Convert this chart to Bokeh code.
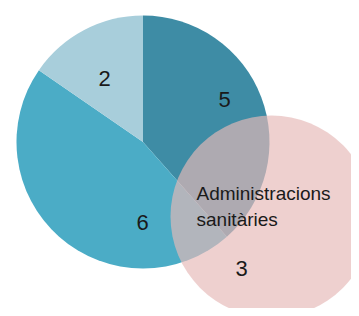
from bokeh.plotting import figure
from bokeh.models import Range1d, ColumnDataSource
from bokeh.core.properties import value
from bokeh.embed import file_html
from bokeh.resources import INLINE
import math

# --- data ---
pie_values = [5, 6, 2]
pie_colors = ["#3E8CA5", "#4BACC6", "#A8CEDB"]
circle_label = "Administracions sanitàries"
circle_value = 3

# --- layout (image-pixel based coordinates, y measured upward) ---
W, H = 351, 308
p = figure(width=W, height=H, output_backend="svg", toolbar_location=None,
           x_range=Range1d(0, W), y_range=Range1d(316 - H, 316),
           min_border=0)
p.axis.visible = False
p.grid.visible = False
p.outline_line_color = None
p.background_fill_color = "white"
p.border_fill_color = "white"

cx, cy, r = 142.5, 316 - 141.5, 126.5
total = sum(pie_values)
starts, ends = [], []
a = math.pi / 2
for v in pie_values:
    starts.append(a)
    a = a - 2 * math.pi * v / total
    ends.append(a)

src = ColumnDataSource(dict(x=[cx] * len(pie_values), y=[cy] * len(pie_values),
                            start=starts, end=ends, color=pie_colors,
                            val=[str(v) for v in pie_values]))
p.wedge(x="x", y="y", radius=r, start_angle="start", end_angle="end",
        direction="clock", fill_color="color", line_color=None, source=src)

# Overlapping circle
ccx, ccy, cr = 271, 316 - 216, 101
p.circle(x=[ccx], y=[ccy], radius=cr, fill_color="#E6B9B8", fill_alpha=0.67,
         line_color=None)

# Slice labels
label_pos = [(224, 99), (142, 222), (104, 78)]
p.text(x=[q[0] for q in label_pos], y=[316 - q[1] for q in label_pos],
       text=[str(v) for v in pie_values], text_align="center",
       text_baseline="middle", text_font=value("Liberation Sans"),
       text_font_size="22px", text_color="#1a1a1a")

# Circle labels
lines = circle_label.split(" ")
p.text(x=[196] * len(lines), y=[316 - 193, 316 - 219], text=lines,
       text_align="left", text_baseline="alphabetic",
       text_font=value("Liberation Sans"), text_font_size="19px",
       text_color="#1a1a1a")
p.text(x=[241], y=[316 - 268], text=[str(circle_value)], text_align="center",
       text_baseline="middle", text_font=value("Liberation Sans"),
       text_font_size="22px", text_color="#1a1a1a")

open("out.html", "w").write(file_html(p, INLINE))
